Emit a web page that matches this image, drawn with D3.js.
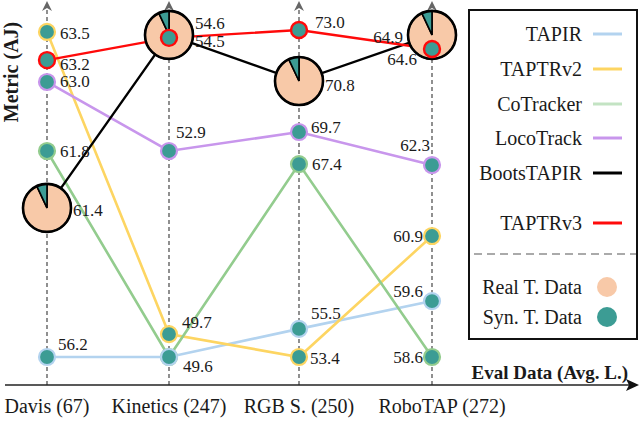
<!DOCTYPE html>
<html><head><meta charset="utf-8">
<script src="https://cdn.jsdelivr.net/npm/d3@7"></script>
<style>
body{margin:0;background:#fff}
svg{display:block}
</style>
</head><body>
<svg id="c" width="640" height="421" style="font-family:'Liberation Serif','Times New Roman','DejaVu Serif',serif"></svg>
<script>
// ---------------- data ----------------
const categories = ["Davis (67)", "Kinetics (247)", "RGB S. (250)", "RoboTAP (272)"];
const seriesNames = ["TAPIR", "TAPTRv2", "CoTracker", "LocoTrack", "BootsTAPIR", "TAPTRv3"];
const tapir      = [56.2, 49.6, 55.5, 59.6];
const taptrv2    = [63.5, 49.7, 53.4, 60.9];
const cotracker  = [61.8, 49.6, 67.4, 58.6];
const locotrack  = [63.0, 52.9, 69.7, 62.3];
const bootstapir = [61.4, 54.6, 70.8, 64.9];
const taptrv3    = [63.2, 54.5, 73.0, 64.6];
const bootsRealShare = [0.93, 0.93, 0.93, 0.93];   // share of real training data (pie)
const dataLegend = ["Real T. Data", "Syn. T. Data"];
const xAxisTitle = "Eval Data (Avg. L.)";
const yAxisTitle = "Metric (AJ)";

// ---------------- styling / layout ----------------
const FONT = "'Liberation Serif','Times New Roman','DejaVu Serif',serif";
const colors = {TAPIR:"#b3d3ef", TAPTRv2:"#fdd562", CoTracker:"#93cc8e", LocoTrack:"#c896ec", BootsTAPIR:"#000000", TAPTRv3:"#ff0a0a"};
const legendColors = {TAPIR:"#b3d3ef", TAPTRv2:"#fdd562", CoTracker:"#c3e3c3", LocoTrack:"#c896ec", BootsTAPIR:"#000000", TAPTRv3:"#ff0a0a"};
const teal = "#3c9c94", peach = "#f8c9a8";
const seriesValues = {TAPIR:tapir, TAPTRv2:taptrv2, CoTracker:cotracker, LocoTrack:locotrack, BootsTAPIR:bootstapir, TAPTRv3:taptrv3};

// each eval axis has its own (piece-wise) value scale: value stops -> fraction of axis height
const axisWarp = [
  {v:[56.2, 61.4, 61.8, 63.0, 63.2, 63.5], f:[0, 0.456, 0.630, 0.841, 0.908, 0.994]},
  {v:[49.6, 49.7, 52.9, 54.5, 54.6],       f:[0, 0.070, 0.630, 0.976, 0.985]},
  {v:[53.4, 55.5, 67.4, 69.7, 70.8, 73.0], f:[0, 0.086, 0.590, 0.688, 0.844, 1.0]},
  {v:[58.6, 59.6, 60.9, 62.3, 64.6, 64.9], f:[0, 0.171, 0.370, 0.587, 0.942, 0.985]}
];
// label placement per series per axis: [dx, dy, anchor] (null = no label)
const labelPos = {
  TAPIR:     [[11,-13,"start"],[14,9,"start"],[12,-15,"start"],[-9,-10,"end"]],
  TAPTRv2:   [[13,2,"start"],[13,-12,"start"],[11,1,"start"],[-9,0,"end"]],
  CoTracker: [[13,1,"start"],null,[13,0,"start"],[-9,0,"end"]],
  LocoTrack: [[13,0,"start"],[7,-18,"start"],[12,-5,"start"],[-2,-20,"end"]],
  BootsTAPIR:[[26,3,"start"],[26,-11,"start"],[26,4,"start"],[-29,3,"end"]],
  TAPTRv3:   [[13,4,"start"],[26,4,"start"],[16,-8,"start"],[-15,11,"end"]]
};

const svg = d3.select("#c");
const x = d3.scaleOrdinal().domain(categories).range([47, 169, 299, 432]);
const yFrac = d3.scaleLinear().domain([0, 1]).range([357, 30]);
const yScales = axisWarp.map(w => d3.scaleLinear().domain(w.v).range(w.f.map(yFrac)));
const baseY = 385;
const txt = (sel) => sel.append("text").attr("font-family", FONT).attr("fill", "#1a1a1a");

// vertical dashed axes with arrows
categories.forEach(c => {
  const cx = x(c);
  svg.append("line").attr("x1", cx).attr("x2", cx).attr("y1", baseY).attr("y2", 6)
    .attr("stroke", "#555").attr("stroke-width", 1.3).attr("stroke-dasharray", "4,3");
  svg.append("path").attr("d", `M${cx},1 L${cx+5},11 L${cx},8 L${cx-5},11 Z`).attr("fill", "#666");
});

// x axis
svg.append("line").attr("x1", 5).attr("x2", 630).attr("y1", baseY).attr("y2", baseY)
  .attr("stroke", "#222").attr("stroke-width", 1.6);
svg.append("path").attr("d", `M639,${baseY} L626,${baseY-6} L629,${baseY} L626,${baseY+6} Z`).attr("fill", "#111");

// category labels
categories.forEach((d, i) => {
  txt(svg).attr("x", x(d) + (i === 3 ? 10 : 0)).attr("y", 413)
    .attr("text-anchor", "middle").attr("font-size", 20).text(d);
});

// axis titles
txt(svg).attr("x", 628).attr("y", 379).attr("text-anchor", "end")
  .attr("font-size", 19).attr("font-weight", "bold").text(xAxisTitle);
txt(svg).attr("transform", "translate(18,72) rotate(-90)").attr("text-anchor", "middle")
  .attr("font-size", 20).attr("font-weight", "bold").text(yAxisTitle);

// lines
const pt = (name) => seriesValues[name].map((v, i) => [x(categories[i]), yScales[i](v)]);
const line = d3.line();
seriesNames.forEach(name => {
  const light = !(name === "BootsTAPIR" || name === "TAPTRv3");
  svg.append("path").attr("d", line(pt(name))).attr("fill", "none")
    .attr("stroke", colors[name]).attr("stroke-width", light ? 2.6 : 2.4);
});

// pies for BootsTAPIR
const pie = d3.pie().sort(null).value(d => d);
const arc = d3.arc().innerRadius(0).outerRadius(24);
pt("BootsTAPIR").forEach((p, i) => {
  const g = svg.append("g").attr("transform", `translate(${p[0]},${p[1]})`);
  g.selectAll("path").data(pie([bootsRealShare[i], 1 - bootsRealShare[i]])).join("path")
    .attr("d", arc).attr("fill", (d, j) => j === 0 ? peach : teal)
    .attr("stroke", "#000").attr("stroke-width", 1.6);
  g.append("circle").attr("r", 24).attr("fill", "none").attr("stroke", "#000").attr("stroke-width", 2.6);
});

// markers
["CoTracker", "LocoTrack", "TAPTRv2", "TAPIR", "TAPTRv3"].forEach(name => {
  svg.selectAll(null).data(pt(name)).join("circle")
    .attr("cx", d => d[0]).attr("cy", d => d[1]).attr("r", 8)
    .attr("fill", teal).attr("stroke", colors[name]).attr("stroke-width", name === "TAPTRv3" ? 2.4 : 2.2);
});

// value labels
seriesNames.forEach(name => {
  pt(name).forEach((p, i) => {
    const lp = labelPos[name][i];
    if (!lp) return;
    txt(svg).attr("x", p[0] + lp[0]).attr("y", p[1] + lp[1])
      .attr("dominant-baseline", "central").attr("text-anchor", lp[2])
      .attr("font-size", 17).text(seriesValues[name][i].toFixed(1));
  });
});

// legend
const lg = svg.append("g");
lg.append("rect").attr("x", 469).attr("y", 10).attr("width", 168).attr("height", 329)
  .attr("fill", "#fff").attr("stroke", "#111").attr("stroke-width", 2);
const legendY = [34, 69, 104, 138, 173, 223];
seriesNames.forEach((name, i) => {
  txt(lg).attr("x", 582).attr("y", legendY[i]).attr("dominant-baseline", "central")
    .attr("text-anchor", "end").attr("font-size", 20).text(name);
  lg.append("line").attr("x1", 593).attr("x2", 622).attr("y1", legendY[i]).attr("y2", legendY[i])
    .attr("stroke", legendColors[name]).attr("stroke-width", 3);
});
lg.append("line").attr("x1", 474).attr("x2", 636).attr("y1", 254).attr("y2", 254)
  .attr("stroke", "#aaa").attr("stroke-width", 2.2).attr("stroke-dasharray", "8,5");
[[dataLegend[0], peach, 287], [dataLegend[1], teal, 317]].forEach(([t, c, yy]) => {
  txt(lg).attr("x", 582).attr("y", yy).attr("dominant-baseline", "central")
    .attr("text-anchor", "end").attr("font-size", 20).text(t);
  lg.append("circle").attr("cx", 607).attr("cy", yy).attr("r", 10).attr("fill", c);
});
</script>
</body></html>
